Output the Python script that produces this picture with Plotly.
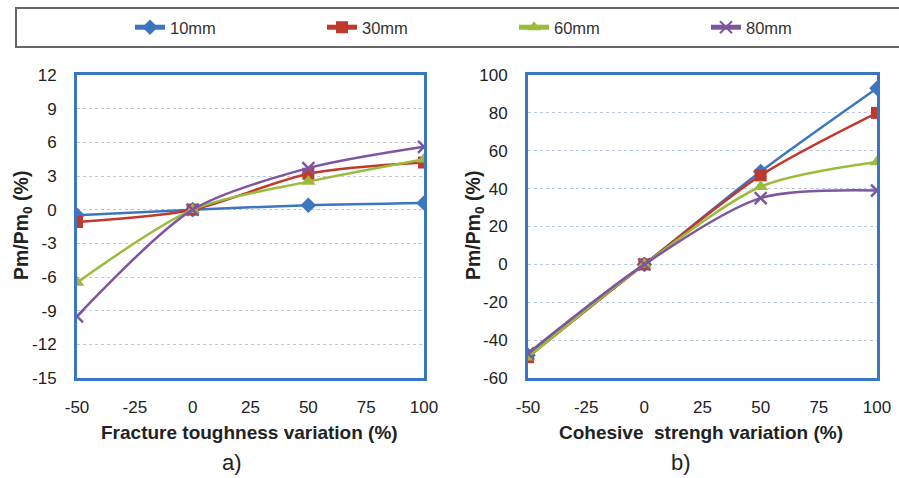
import plotly.graph_objects as go

x_vals = [-50, 0, 50, 100]
series_names = ["10mm", "30mm", "60mm", "80mm"]

# Panel a) Fracture toughness variation
a_10 = [-0.5, 0.0, 0.4, 0.6]
a_30 = [-1.1, 0.0, 3.2, 4.2]
a_60 = [-6.5, 0.0, 2.5, 4.5]
a_80 = [-9.5, 0.0, 3.7, 5.6]

# Panel b) Cohesive strength variation
b_10 = [-48, 0, 49, 93]
b_30 = [-49, 0, 47, 80]
b_60 = [-49, 0, 41, 54]
b_80 = [-47, 0, 35, 39]

x_ticks = [-50, -25, 0, 25, 50, 75, 100]
a_yticks = [-15, -12, -9, -6, -3, 0, 3, 6, 9, 12]
b_yticks = [-60, -40, -20, 0, 20, 40, 60, 80, 100]

colors = ["#3D75BE", "#C0392F", "#9BBB3B", "#7D55A0"]
symbols = ["diamond", "square", "triangle-up", "x-thin-open"]
sizes = [12, 12, 13, 12]

W, H = 899, 478
FONT = "Liberation Sans, Arial, sans-serif"

fig = go.Figure()
for i, (name, ya, yb) in enumerate(zip(series_names, [a_10, a_30, a_60, a_80], [b_10, b_30, b_60, b_80])):
    mk = dict(symbol=symbols[i], size=sizes[i], color=colors[i],
              line=dict(color=colors[i], width=2.5 if i == 3 else 0))
    fig.add_trace(go.Scatter(x=x_vals, y=ya, name=name, mode="lines+markers",
                             line=dict(color=colors[i], width=2.5, shape="spline", smoothing=0.8),
                             marker=mk, xaxis="x", yaxis="y", legendgroup=name))
    fig.add_trace(go.Scatter(x=x_vals, y=yb, name=name, mode="lines+markers",
                             line=dict(color=colors[i], width=2.5, shape="spline", smoothing=0.8),
                             marker=mk, xaxis="x2", yaxis="y2", legendgroup=name, showlegend=False))

def px_x(p):
    return p / W

def px_y(p):
    return 1 - p / H

def labels(vals):
    return [str(v) for v in vals]

frame = "#3A76C2"
grid = "#B9C9DA"
tickfont = dict(family=FONT, size=17, color="#222")
axis_common = dict(showline=True, linecolor=frame, linewidth=3, mirror=True,
                   ticks="", tickfont=tickfont, zeroline=False, automargin=False)

fig.update_layout(
    width=W, height=H,
    margin=dict(l=0, r=0, t=0, b=0),
    paper_bgcolor="white", plot_bgcolor="white",
    showlegend=True,
    legend=dict(orientation="h", x=px_x(130), y=px_y(27.5), xanchor="left", yanchor="middle",
                font=dict(family=FONT, size=16.5, color="#333"),
                entrywidth=147, entrywidthmode="pixels", bgcolor="rgba(0,0,0,0)",
                itemsizing="constant"),
    xaxis=dict(domain=[px_x(77), px_x(424)], range=[-50, 100], tickvals=x_ticks,
               ticktext=labels(x_ticks), ticklabelstandoff=12,
               showgrid=False, anchor="y", **axis_common),
    yaxis=dict(domain=[px_y(378), px_y(75)], range=[-15, 12], tickvals=a_yticks,
               ticktext=labels(a_yticks),
               showgrid=True, gridcolor=grid, griddash="dot", gridwidth=1, anchor="x",
               ticklabelstandoff=14, **axis_common),
    xaxis2=dict(domain=[px_x(528), px_x(877)], range=[-50, 100], tickvals=x_ticks,
                ticktext=labels(x_ticks), ticklabelstandoff=12,
                showgrid=False, anchor="y2", **axis_common),
    yaxis2=dict(domain=[px_y(378), px_y(75)], range=[-60, 100], tickvals=b_yticks,
                ticktext=labels(b_yticks),
                showgrid=True, gridcolor=grid, griddash="dot", gridwidth=1, anchor="x2",
                ticklabelstandoff=14, **axis_common),
    shapes=[dict(type="rect", xref="paper", yref="paper",
                 x0=px_x(16), x1=px_x(910), y0=px_y(47), y1=px_y(8),
                 line=dict(color="#666", width=2), fillcolor="rgba(0,0,0,0)")],
)

ann = [
    dict(text="Pm/Pm<sub>0</sub> (%)", x=px_x(22), y=px_y(226), textangle=-90, size=19.5),
    dict(text="Pm/Pm<sub>0</sub> (%)", x=px_x(474), y=px_y(226), textangle=-90, size=19.5),
    dict(text="Fracture toughness variation (%)", x=px_x(249), y=px_y(432), size=19),
    dict(text="Cohesive  strengh variation (%)", x=px_x(701), y=px_y(432), size=19),
]
for a in ann:
    sz = a.pop("size")
    fig.add_annotation(xref="paper", yref="paper", showarrow=False,
                       xanchor="center", yanchor="middle",
                       font=dict(family=FONT, size=sz, color="#222", weight="bold"), **a)
for t, xx in [("a)", 232), ("b)", 681)]:
    fig.add_annotation(text=t, xref="paper", yref="paper", x=px_x(xx), y=px_y(462),
                       showarrow=False, xanchor="center", yanchor="middle",
                       font=dict(family=FONT, size=22, color="#222"))

fig.write_html("out.html", config={"displayModeBar": False},
               post_script="document.body.style.margin='0';")
